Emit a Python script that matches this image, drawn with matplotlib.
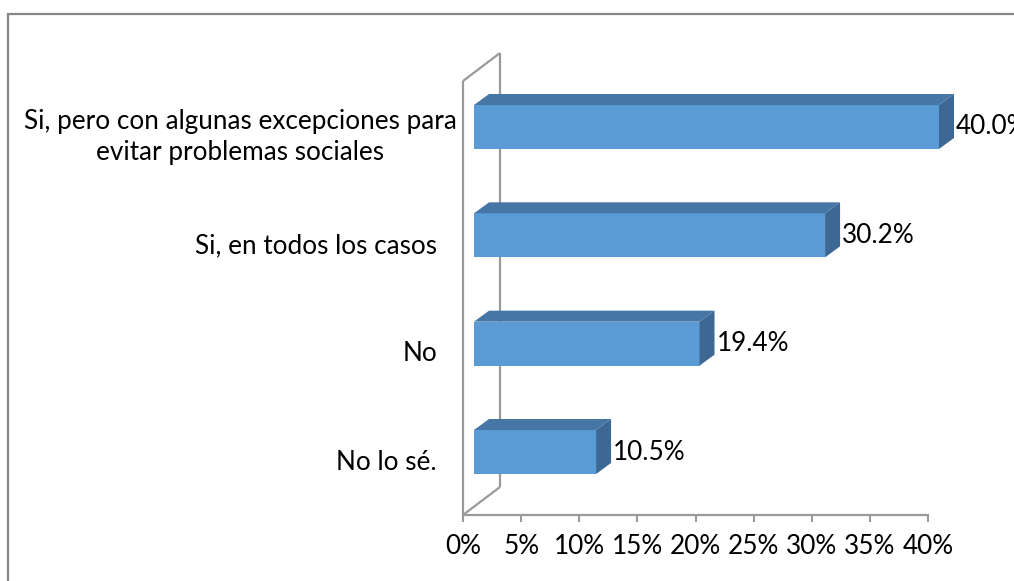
import matplotlib
matplotlib.use("Agg")
import matplotlib.pyplot as plt
from matplotlib.patches import Polygon, Rectangle

# ---------------- data ----------------
categories = ["No lo sé.", "No", "Si, en todos los casos",
              "Si, pero con algunas excepciones para\nevitar problemas sociales"]
values = [10.5, 19.4, 30.2, 40.0]
value_labels = ["10.5%", "19.4%", "30.2%", "40.0%"]
xticks = [0, 5, 10, 15, 20, 25, 30, 35, 40]
xtick_labels = ["0%", "5%", "10%", "15%", "20%", "25%", "30%", "35%", "40%"]

# ---------------- style ----------------
W, H = 1014, 581
FRONT = "#5B9BD5"
TOP = "#4676A6"
SIDE = "#3C6893"
GRAY = "#9A9A9A"
BORDER = "#878787"
plt.rcParams['font.family'] = ['Lato', 'DejaVu Sans']

fig = plt.figure(figsize=(W / 100, H / 100), dpi=100)

# fit font size to the reference label width
t = fig.text(0, 0, "Si, pero con algunas excepciones para", fontsize=10)
r = fig.canvas.get_renderer()
w10 = t.get_window_extent(r).width
t.remove()
fs = 10 * 432 / w10

# outer chart border (extends past the image at right/bottom)
fig.patches.append(Rectangle((7.5 / W, -0.1), 1.2, 1 - 13.5 / H + 0.1,
                             transform=fig.transFigure, fill=False,
                             edgecolor=BORDER, linewidth=1.6))

ylo, yhi = -0.5815, 3.4246
ax = fig.add_axes([463 / W, 1 - 515 / H, 465 / W, 434 / H])
ax.set_xlim(0, 40)
ax.set_ylim(ylo, yhi)
ax.patch.set_visible(False)
for s in ["top", "right", "left"]:
    ax.spines[s].set_visible(False)
ax.spines["bottom"].set_color(GRAY)
ax.spines["bottom"].set_linewidth(1.6)
ax.set_xticks(xticks)
ax.set_xticklabels(xtick_labels)
ax.tick_params(axis="x", length=5, width=1.5, color=GRAY, pad=9,
               labelsize=fs, labelcolor="black")
ax.set_yticks([])

PX = 465 / 40.0                 # pixels per percent
PY = 434 / (yhi - ylo)          # pixels per category unit

# side wall
DXW, DYW = 37 / PX, 28 / PY
wall_kw = dict(color=GRAY, linewidth=1.6, clip_on=False, zorder=1,
               solid_capstyle="butt")
ax.plot([0, 0], [ylo, yhi], **wall_kw)
ax.plot([DXW, DXW], [ylo + DYW, yhi + DYW], **wall_kw)
ax.plot([0, DXW], [yhi, yhi + DYW], **wall_kw)
ax.plot([0, DXW], [ylo, ylo + DYW], **wall_kw)

# 3D bars
X0 = 11 / PX
BH = 44 / PY
DXB, DYB = 15 / PX, 11 / PY
pos = list(range(len(values)))
bars = ax.barh(pos, values, left=X0, height=BH, color=FRONT, zorder=3,
               edgecolor="none")
for b in bars:
    b.set_clip_on(False)
for y, v, lab in zip(pos, values, value_labels):
    top = [(X0, y + BH / 2), (X0 + v, y + BH / 2),
           (X0 + v + DXB, y + BH / 2 + DYB), (X0 + DXB, y + BH / 2 + DYB)]
    side = [(X0 + v, y - BH / 2), (X0 + v + DXB, y - BH / 2 + DYB),
            (X0 + v + DXB, y + BH / 2 + DYB), (X0 + v, y + BH / 2)]
    ax.add_patch(Polygon(top, closed=True, facecolor=TOP, edgecolor="none",
                         zorder=3, clip_on=False))
    ax.add_patch(Polygon(side, closed=True, facecolor=SIDE, edgecolor="none",
                         zorder=3, clip_on=False))
    ax.text(X0 + v + DXB + 2 / PX, y, lab, ha="left", va="center",
            fontsize=fs, color="black", clip_on=False, zorder=4)

# category labels
for y, c in zip(pos, categories):
    if "\n" in c:
        ax.text((240.5 - 463) / PX, y - 33 / PY, c, ha="center", va="baseline",
                multialignment="center", fontsize=fs, linespacing=1.3,
                clip_on=False)
    else:
        ax.text(-26 / PX, y - 17.5 / PY, c, ha="right", va="baseline",
                fontsize=fs, clip_on=False)

fig.savefig("out.png", dpi=100)
